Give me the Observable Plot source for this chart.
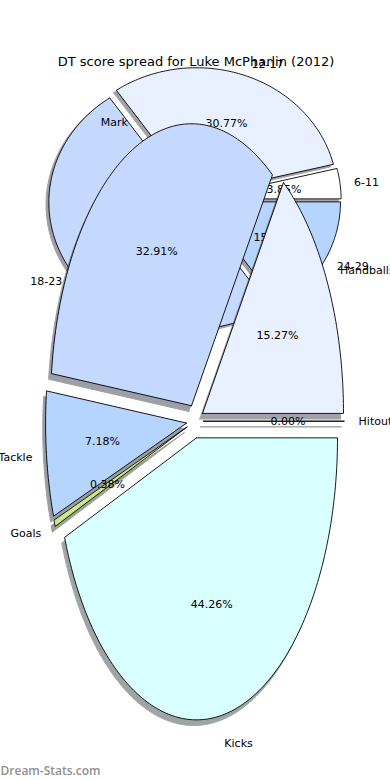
<!DOCTYPE html>
<html>
<head>
<meta charset="utf-8">
<script src="https://cdn.jsdelivr.net/npm/d3@7"></script>
<script src="https://cdn.jsdelivr.net/npm/@observablehq/plot@0.6"></script>
<style>
  html, body { margin: 0; padding: 0; background: #ffffff; }
  svg { display: block; }
</style>
</head>
<body>
<div id="chart"></div>
<script>
// ---- Data ----
const chartTitle = "DT score spread for Luke McPharlin (2012)";
const watermark = "Dream-Stats.com";

// Pie 1: DT score ranges (share of games, %)
const scoreRanges = ["6-11", "12-17", "18-23", "24-29"];
const scoreShares = [3.85, 30.77, 50.00, 15.38];
const scoreColors = ["#ffffff", "#e9f0ff", "#c5d9ff", "#b5d5ff"];

// Pie 2: stat breakdown (share, %)
const statNames = ["Hitouts", "Handballs", "Mark", "Tackle", "Goals", "Kicks"];
const statShares = [0.00, 15.27, 32.91, 7.18, 0.38, 44.26];
const statColors = ["#ffffff", "#e9f0ff", "#c5d9ff", "#b5d5ff", "#cce88a", "#d9ffff"];

// ---- Layout (pixel geometry of the two elliptical pies) ----
const scoreLayout = {cx: 194, cy: 199, rx: 141, ry: 127, explode: 0.04};
const statLayout  = {cx: 194.5, cy: 420.7, rx: 141, ry: 282, explode: 0.06};

function shadowColor(hex) {
  const c = d3.rgb(hex);
  return d3.rgb(c.r * 0.3, c.g * 0.3, c.b * 0.3).formatHex();
}

function buildPie(names, shares, colors, L, tag) {
  const total = d3.sum(shares);
  let a0 = 0;
  const wedges = [], shadows = [], labels = [], pcts = [];
  names.forEach((name, i) => {
    const sweep = shares[i] / total * 2 * Math.PI;
    const a1 = a0 + sweep;
    const mid = (a0 + a1) / 2;
    const vx = L.cx + L.explode * L.rx * Math.cos(mid);
    const vy = L.cy - L.explode * L.ry * Math.sin(mid);
    const steps = Math.max(1, Math.ceil(sweep / (Math.PI / 180)));
    const key = tag + i;
    const pts = [[vx, vy]];
    for (let k = 0; k <= steps; k++) {
      const a = a0 + sweep * k / steps;
      pts.push([vx + L.rx * Math.cos(a), vy - L.ry * Math.sin(a)]);
    }
    pts.push([vx, vy]);
    const sx = -0.02 * L.rx, sy = 0.02 * L.ry;
    pts.forEach(([x, y]) => {
      wedges.push({key, x, y, fill: colors[i]});
      shadows.push({key, x: x + sx, y: y + sy, fill: shadowColor(colors[i])});
    });
    const lx = vx + 1.1 * L.rx * Math.cos(mid);
    const ly = vy - 1.1 * L.ry * Math.sin(mid);
    labels.push({x: lx, y: ly, text: name, anchor: Math.cos(mid) >= 0 ? "start" : "end"});
    pcts.push({x: vx + 0.6 * L.rx * Math.cos(mid), y: vy - 0.6 * L.ry * Math.sin(mid),
               text: shares[i].toFixed(2) + "%"});
    a0 = a1;
  });
  return {wedges, shadows, labels, pcts};
}

const score = buildPie(scoreRanges, scoreShares, scoreColors, scoreLayout, "s");
const stats = buildPie(statNames, statShares, statColors, statLayout, "k");

const FONT = "DejaVu Sans, Verdana, sans-serif";

function pieMarks(p) {
  return [
    Plot.line(p.shadows, {x: "x", y: "y", z: "key", fill: "fill", stroke: "fill",
      strokeWidth: 1, opacity: 0.5, curve: "linear"}),
    Plot.line(p.wedges, {x: "x", y: "y", z: "key", fill: "fill", stroke: "#000",
      strokeWidth: 0.9, curve: "linear"}),
    Plot.text(p.labels.filter(d => d.anchor === "start"), {x: "x", y: "y", text: "text",
      textAnchor: "start", fontSize: 11, fontFamily: FONT, fill: "#000"}),
    Plot.text(p.labels.filter(d => d.anchor === "end"), {x: "x", y: "y", text: "text",
      textAnchor: "end", fontSize: 11, fontFamily: FONT, fill: "#000"}),
    Plot.text(p.pcts, {x: "x", y: "y", text: "text", textAnchor: "middle",
      fontSize: 11, fontFamily: FONT, fill: "#000"})
  ];
}

const chart = Plot.plot({
  width: 390,
  height: 780,
  margin: 0,
  x: {type: "identity", axis: null},
  y: {type: "identity", axis: null},
  color: {type: "identity"},
  style: {background: "#ffffff", fontFamily: FONT},
  marks: [
    ...pieMarks(score),
    ...pieMarks(stats),
    Plot.text([chartTitle], {x: () => 195.5, y: () => 61, text: d => d,
      textAnchor: "middle", fontSize: 13, fontFamily: FONT, fill: "#000"}),
    Plot.text([watermark], {x: () => 0, y: () => 771, text: d => d,
      textAnchor: "start", fontSize: 12, fontWeight: 600, fontFamily: "Open Sans, DejaVu Sans, sans-serif", fill: "#8f8f8f"})
  ]
});

document.getElementById("chart").appendChild(chart);
</script>
</body>
</html>
